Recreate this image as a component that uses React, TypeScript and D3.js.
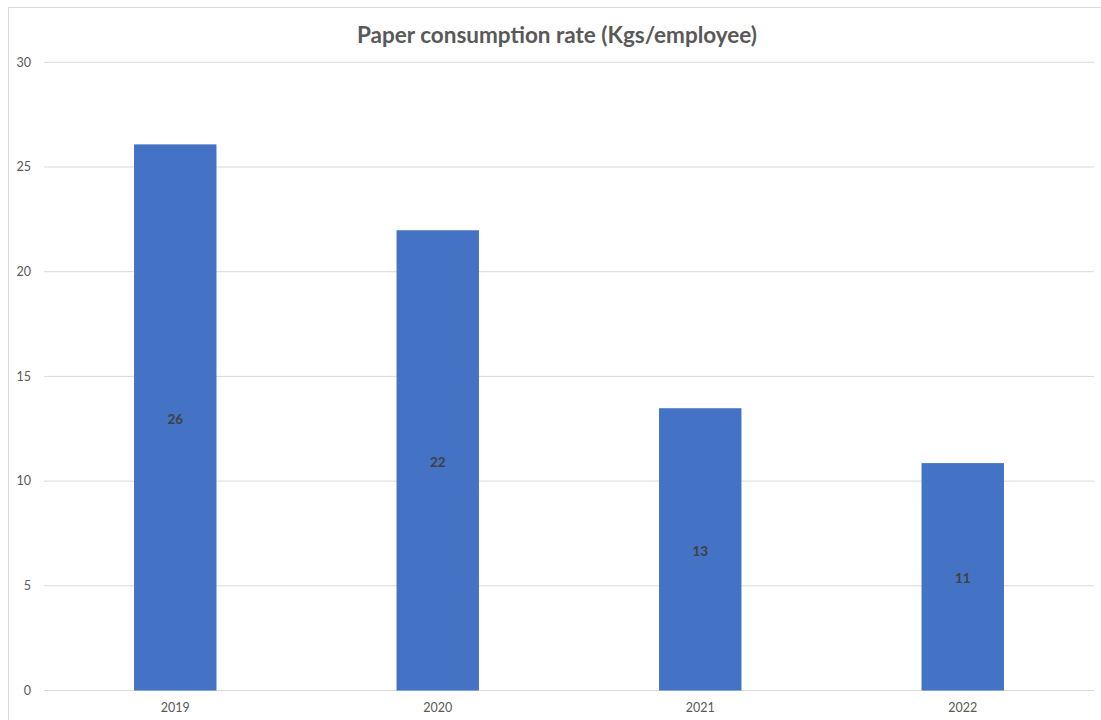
import { useEffect, useRef } from 'react';
import * as d3 from 'd3';

const YEARS = ['2019', '2020', '2021', '2022'];
const RATES = [26.08, 21.98, 13.48, 10.86];
const RATE_LABELS = ['26', '22', '13', '11'];
const Y_TICKS = [0, 5, 10, 15, 20, 25, 30];

const WIDTH = 1101;
const HEIGHT = 720;
const BAR_COLOR = '#4472C4';
const TEXT_COLOR = '#595959';
const GRID_COLOR = '#d9d9d9';

export default function App() {
  const svgRef = useRef<SVGSVGElement>(null);

  useEffect(() => {
    if (!svgRef.current) return;
    const svg = d3.select(svgRef.current);
    svg.selectAll('*').remove();

    const font = 'Lato, "Open Sans", sans-serif';
    const margin = { top: 62.3, right: 7, bottom: 29.5, left: 44 };

    // chart frame (extends past the image on the right/bottom)
    svg.append('rect')
      .attr('x', 8.5)
      .attr('y', 7.5)
      .attr('width', WIDTH + 20)
      .attr('height', HEIGHT + 20)
      .attr('fill', 'white')
      .attr('stroke', GRID_COLOR)
      .attr('stroke-width', 1);

    const x = d3.scaleBand<string>()
      .domain(YEARS)
      .range([margin.left, WIDTH - margin.right])
      .paddingInner(0.686)
      .paddingOuter(0.343);

    const y = d3.scaleLinear()
      .domain([0, 30])
      .range([HEIGHT - margin.bottom, margin.top]);

    // gridlines
    svg.append('g')
      .selectAll('line')
      .data(Y_TICKS)
      .enter()
      .append('line')
      .attr('x1', margin.left)
      .attr('x2', WIDTH - margin.right)
      .attr('y1', d => y(d))
      .attr('y2', d => y(d))
      .attr('stroke', GRID_COLOR)
      .attr('stroke-width', 1);

    // y tick labels
    svg.append('g')
      .selectAll('text')
      .data(Y_TICKS)
      .enter()
      .append('text')
      .attr('x', 31)
      .attr('y', d => y(d))
      .attr('dy', '0.35em')
      .attr('text-anchor', 'end')
      .attr('font-family', font)
      .attr('font-size', 12.5)
      .attr('fill', TEXT_COLOR)
      .text(d => d);

    // bars
    svg.append('g')
      .selectAll('rect')
      .data(RATES)
      .enter()
      .append('rect')
      .attr('x', (_d, i) => x(YEARS[i])!)
      .attr('y', d => y(d))
      .attr('width', x.bandwidth())
      .attr('height', d => y(0) - y(d))
      .attr('fill', BAR_COLOR);

    // data labels in the middle of each bar
    svg.append('g')
      .selectAll('text')
      .data(RATES)
      .enter()
      .append('text')
      .attr('x', (_d, i) => x(YEARS[i])! + x.bandwidth() / 2)
      .attr('y', d => (y(d) + y(0)) / 2 + 1.5)
      .attr('dy', '0.35em')
      .attr('text-anchor', 'middle')
      .attr('font-family', font)
      .attr('font-size', 13.5)
      .attr('font-weight', 'bold')
      .attr('fill', '#404040')
      .text((_d, i) => RATE_LABELS[i]);

    // x tick labels
    svg.append('g')
      .selectAll('text')
      .data(YEARS)
      .enter()
      .append('text')
      .attr('x', d => x(d)! + x.bandwidth() / 2)
      .attr('y', 708)
      .attr('dy', '0.35em')
      .attr('text-anchor', 'middle')
      .attr('font-family', font)
      .attr('font-size', 12.5)
      .attr('fill', TEXT_COLOR)
      .text(d => d);

    // title
    svg.append('text')
      .attr('x', 557)
      .attr('y', 42.5)
      .attr('text-anchor', 'middle')
      .attr('font-family', font)
      .attr('font-size', 22.5)
      .attr('font-weight', 'bold')
      .attr('fill', TEXT_COLOR)
      .text('Paper consumption rate (Kgs/employee)');
  }, []);

  return (
    <svg
      ref={svgRef}
      width={WIDTH}
      height={HEIGHT}
      style={{ position: 'absolute', left: 0, top: 0, display: 'block' }}
    ></svg>
  );
}
